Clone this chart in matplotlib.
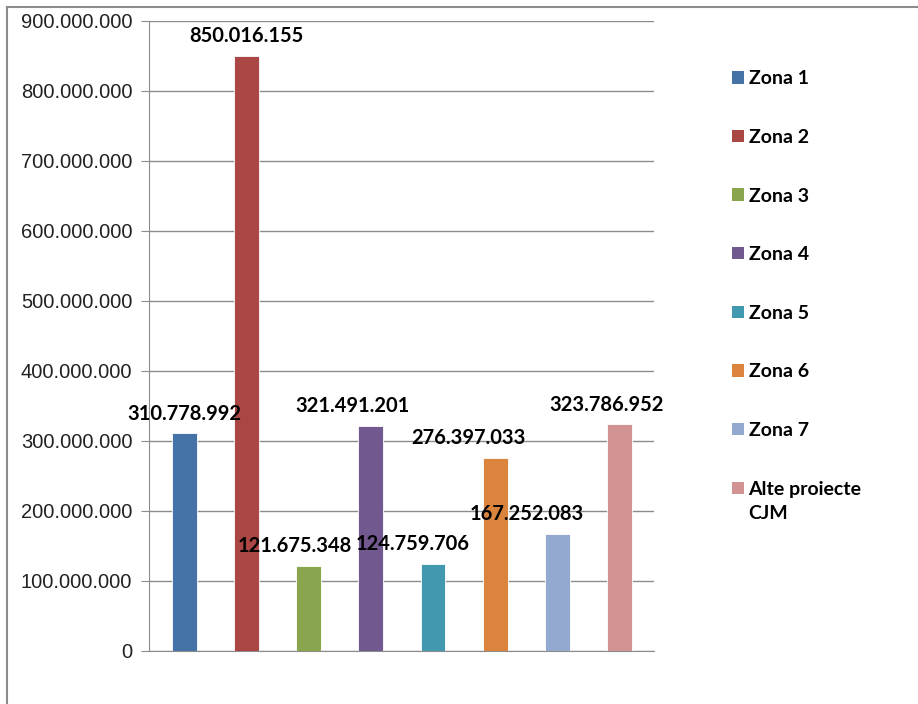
import matplotlib.pyplot as plt
from matplotlib.lines import Line2D
from matplotlib.ticker import FuncFormatter, MultipleLocator

# date
zone = ["Zona 1", "Zona 2", "Zona 3", "Zona 4", "Zona 5", "Zona 6", "Zona 7",
        "Alte proiecte"]
zone_rand2 = "CJM"
valori = [310778992, 850016155, 121675348, 321491201, 124759706, 276397033,
          167252083, 323786952]
culori = ["#4572A7", "#AA4643", "#89A54E", "#71588F", "#4198AF", "#DB843D",
          "#93A9CF", "#D19392"]
# deplasarea etichetelor (puncte), ca in Excel
dx_etichete = [0, 0, -10, -13, -15, -19, -22, -9]


def format_mii(v, pos):
    return f"{int(v):,}".replace(",", ".")


def draw_graph():
    fig = plt.figure(figsize=(9.18, 7.04), dpi=100)
    ax = fig.add_axes([0.1623, 0.0753, 0.5501, 0.8949])

    x = list(range(len(valori)))
    bars = []
    for i in x:
        b = ax.bar(i, valori[i], width=0.40, color=culori[i],
                   edgecolor="white", linewidth=0.6, label=zone[i], zorder=3)
        bars.append(b)
        ax.annotate(format_mii(valori[i], None), (i, valori[i]),
                    xytext=(dx_etichete[i], 7), textcoords="offset points",
                    ha="center", va="bottom", fontsize=14.5,
                    fontweight="bold", family="Lato", zorder=5)

    ax.set_xlim(-0.571, 7.555)
    ax.set_ylim(0, 900000000)
    ax.yaxis.set_major_locator(MultipleLocator(100000000))
    ax.yaxis.set_major_formatter(FuncFormatter(format_mii))
    ax.grid(axis="y", color="#8c8c8c", linewidth=1, zorder=0)
    ax.set_xticks([])
    for s in ["top", "right"]:
        ax.spines[s].set_visible(False)
    ax.spines["left"].set_color("#8c8c8c")
    ax.spines["bottom"].set_color("#8c8c8c")
    ax.tick_params(axis="y", length=6, color="#8c8c8c", labelsize=14.5,
                   pad=6)
    for t in ax.get_yticklabels():
        t.set_family("Liberation Sans")
        t.set_color("#222222")

    prop = {"family": "Lato", "weight": "bold", "size": 14}
    leg = fig.legend(handles=[b[0] for b in bars], labels=zone,
                     loc="upper left", bbox_to_anchor=(0.7783, 0.925),
                     frameon=False, handlelength=0.6, handleheight=0.6,
                     handletextpad=0.25, labelspacing=2.14, prop=prop)
    for h in leg.legend_handles:
        h.set_edgecolor("none")

    # al doilea rand al ultimei etichete din legenda
    fig.canvas.draw()
    ultim = leg.get_texts()[-1].get_window_extent()
    x0, y0 = fig.transFigure.inverted().transform((ultim.x0, ultim.y0))
    fig.text(x0, y0 - 7 / 704, zone_rand2, ha="left", va="top",
             fontproperties=leg.get_texts()[-1].get_fontproperties())

    # chenarul graficului
    fig.add_artist(Line2D([7 / 918, 1], [1 - 7 / 704, 1 - 7 / 704],
                          color="#8c8c8c", linewidth=1.5))
    fig.add_artist(Line2D([7 / 918, 7 / 918], [0, 1 - 7 / 704],
                          color="#8c8c8c", linewidth=1.5))

    fig.savefig("out.png", dpi=100)


draw_graph()
